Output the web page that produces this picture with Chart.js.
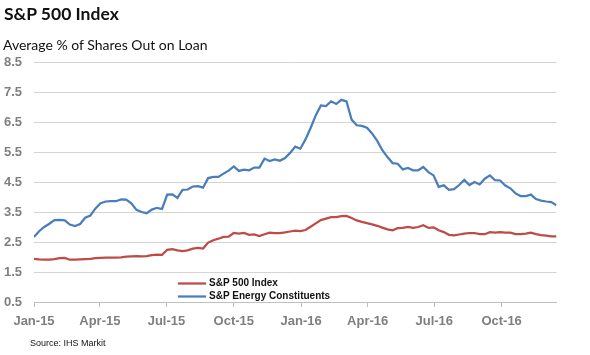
<!DOCTYPE html>
<html><head><meta charset="utf-8">
<script src="https://cdn.jsdelivr.net/npm/chart.js@4"></script>
<style>
html,body{margin:0;padding:0;background:#fff;}
#wrap{position:relative;width:590px;height:355px;overflow:hidden;}
#title{position:absolute;left:4px;top:3px;font:bold 17.5px Lato, sans-serif;color:#111;white-space:nowrap;}
#subtitle{position:absolute;left:3px;top:36px;font:14px Lato, sans-serif;color:#111;white-space:nowrap;}
#source{position:absolute;left:30px;top:338px;font:9px "Liberation Sans", Arial, sans-serif;color:#111;white-space:nowrap;}
canvas{position:absolute;left:0;top:0;}
</style></head>
<body>
<div id="wrap">
<canvas id="c" width="590" height="355"></canvas>
<div id="title">S&amp;P 500 Index</div>
<div id="subtitle">Average % of Shares Out on Loan</div>
<div id="source">Source: IHS Markit</div>
</div>
<script>
// Weekly observations starting on this date
const startDate = '2015-01-01';
const seriesNames = ['S&P 500 Index', 'S&P Energy Constituents'];
const sp500 = [1.94,1.92,1.91,1.91,1.93,1.96,1.97,1.91,1.91,1.92,1.93,1.94,1.96,1.97,1.98,1.98,1.98,1.99,2.01,2.02,
2.03,2.02,2.03,2.06,2.08,2.07,2.24,2.26,2.22,2.20,2.22,2.28,2.30,2.28,2.48,2.56,2.61,2.67,2.68,2.80,
2.78,2.80,2.74,2.75,2.70,2.76,2.81,2.80,2.80,2.82,2.85,2.88,2.86,2.90,3.01,3.12,3.23,3.28,3.33,3.33,
3.36,3.37,3.30,3.22,3.17,3.13,3.09,3.04,2.98,2.92,2.89,2.96,2.97,3.00,2.97,3.00,3.06,2.97,2.99,2.89,
2.83,2.74,2.72,2.75,2.78,2.80,2.80,2.76,2.76,2.83,2.81,2.83,2.81,2.81,2.76,2.76,2.78,2.81,2.76,2.73,
2.71,2.69,2.69];
const energy = [2.67,2.86,3.00,3.11,3.23,3.24,3.22,3.08,3.03,3.10,3.31,3.38,3.62,3.79,3.85,3.86,3.86,3.92,3.91,3.79,
3.57,3.50,3.46,3.58,3.64,3.60,4.08,4.09,3.97,4.24,4.25,4.35,4.36,4.31,4.63,4.67,4.67,4.78,4.88,5.02,
4.87,4.91,4.89,4.98,4.98,5.28,5.20,5.25,5.21,5.30,5.47,5.68,5.61,5.92,6.30,6.72,7.05,7.03,7.19,7.10,
7.24,7.19,6.58,6.39,6.37,6.31,6.12,5.87,5.56,5.33,5.13,5.11,4.92,4.97,4.89,4.89,5.00,4.83,4.72,4.34,
4.39,4.24,4.26,4.40,4.57,4.40,4.50,4.42,4.61,4.72,4.56,4.55,4.38,4.29,4.12,4.03,4.03,4.08,3.93,3.88,
3.85,3.83,3.72];
const tickDates = ['2015-01-01','2015-04-01','2015-07-01','2015-10-01','2016-01-01','2016-04-01','2016-07-01','2016-10-01'];
const tickLabels = ['Jan-15','Apr-15','Jul-15','Oct-15','Jan-16','Apr-16','Jul-16','Oct-16'];
const yTickLabels = ['0.5','1.5','2.5','3.5','4.5','5.5','6.5','7.5','8.5'];

const DAY = 86400000;
const t0 = Date.parse(startDate + 'T00:00:00Z');
const dayOf = s => Math.round((Date.parse(s + 'T00:00:00Z') - t0) / DAY);
const tickDays = tickDates.map(dayOf);
const toPts = arr => arr.map((v, i) => ({x: i * 7, y: v}));
const lastDay = (energy.length - 1) * 7;

const innerLegend = {
  id: 'innerLegend',
  afterDatasetsDraw(chart) {
    const {ctx, chartArea} = chart;
    ctx.save();
    ctx.font = 'bold 10px "Liberation Sans", Arial, sans-serif';
    ctx.textBaseline = 'middle';
    ctx.textAlign = 'left';
    chart.data.datasets.forEach((ds, i) => {
      const y = chartArea.bottom - 18.5 + i * 13;
      const x0 = chartArea.left + 144;
      ctx.strokeStyle = ds.borderColor;
      ctx.lineWidth = 2.25;
      ctx.beginPath(); ctx.moveTo(x0, y); ctx.lineTo(x0 + 28, y); ctx.stroke();
      ctx.fillStyle = '#111';
      ctx.fillText(ds.label, x0 + 31, y);
    });
    ctx.restore();
  }
};

new Chart(document.getElementById('c'), {
  type: 'line',
  data: {
    datasets: [
      {label: seriesNames[0], data: toPts(sp500), borderColor: '#be4b48', borderWidth: 2.25, pointRadius: 0, tension: 0, fill: false},
      {label: seriesNames[1], data: toPts(energy), borderColor: '#4a7ebb', borderWidth: 2.25, pointRadius: 0, tension: 0, fill: false}
    ]
  },
  options: {
    responsive: false,
    animation: false,
    events: [],
    layout: {padding: {left: 0, right: 33.5, top: 62, bottom: 23}},
    plugins: {legend: {display: false}, tooltip: {enabled: false}, title: {display: false}},
    scales: {
      x: {
        type: 'linear',
        min: 0,
        max: lastDay,
        afterBuildTicks: s => { s.ticks = tickDays.map(v => ({value: v})); },
        afterFit: s => { s.height = 30; },
        grid: {drawOnChartArea: false, drawTicks: true, tickLength: 5, color: '#bfbfbf'},
        border: {display: true, color: '#bfbfbf'},
        ticks: {
          autoSkip: false, maxRotation: 0, padding: 7,
          color: '#7f7f7f',
          font: {family: '"Liberation Sans", Arial, sans-serif', size: 13, weight: 'bold'},
          callback: (v, i) => tickLabels[i]
        }
      },
      y: {
        min: 0.5, max: 8.5,
        afterBuildTicks: s => { s.ticks = yTickLabels.map(t => ({value: parseFloat(t)})); },
        afterFit: s => { s.width = 34; },
        grid: {drawTicks: false, color: '#d4d4d4', lineWidth: 1},
        border: {display: false},
        ticks: {
          padding: 12, color: '#7f7f7f',
          font: {family: '"Liberation Sans", Arial, sans-serif', size: 13, weight: 'bold'},
          callback: (v, i) => yTickLabels[i]
        }
      }
    }
  },
  plugins: [innerLegend]
});
</script>
</body></html>
